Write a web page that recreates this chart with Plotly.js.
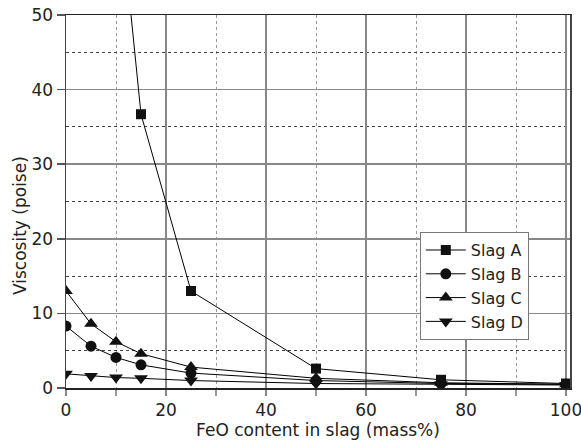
<!DOCTYPE html>
<html><head><meta charset="utf-8">
<script src="https://cdn.plot.ly/plotly-3.0.1.min.js"></script>
<style>body{margin:0;background:#fff}#c{width:581px;height:444px}</style>
</head><body><div id="c"></div>
<script>
const feoA = [10, 15, 25, 50, 75, 100];
const slagA = [70, 36.7, 13.0, 2.6, 1.1, 0.6];
const feo = [0, 5, 10, 15, 25, 50, 75, 100];
const slagB = [8.3, 5.6, 4.1, 3.1, 2.0, 1.0, 0.6, 0.5];
const slagC = [13.0, 8.6, 6.2, 4.6, 2.8, 1.3, 0.7, 0.5];
const slagD = [1.9, 1.6, 1.4, 1.3, 1.0, 0.6, 0.5, 0.4];
const names = ['Slag A', 'Slag B', 'Slag C', 'Slag D'];
const symbols = ['square', 'circle', 'triangle-up', 'triangle-down'];
const sizes = [10, 11, 12, 12];
const xs = [feoA, feo, feo, feo];
const ys = [slagA, slagB, slagC, slagD];

const traces = ys.map((y, i) => ({
  x: xs[i], y: y, name: names[i], type: 'scatter', mode: 'lines+markers',
  line: {color: '#000', width: 1},
  marker: {symbol: symbols[i], size: sizes[i], color: '#111'}
}));

const font = {family: 'DejaVu Sans, Verdana, sans-serif', size: 17, color: '#222'};
const layout = {
  width: 581, height: 444,
  margin: {l: 66, r: 11, t: 15, b: 56},
  paper_bgcolor: '#fff', plot_bgcolor: '#fff',
  font: font,
  showlegend: true,
  legend: {x: 0.702, y: 0.418, xanchor: 'left', yanchor: 'top',
    bgcolor: '#fff', bordercolor: '#777', borderwidth: 1,
    font: {family: font.family, size: 16, color: '#222'}, tracegroupgap: 0, itemwidth: 40},
  xaxis: {
    range: [0, 100.8], tickvals: [0, 20, 40, 60, 80, 100],
    showgrid: true, gridcolor: '#888', gridwidth: 1.5,
    showline: true, linecolor: '#222', linewidth: 1.5, mirror: true,
    ticks: 'outside', ticklen: 6, tickcolor: '#888', tickwidth: 1.5,
    zeroline: false, ticklabeloverflow: 'allow',
    minor: {tickvals: [10, 30, 50, 70, 90], showgrid: true, gridcolor: '#999', griddash: 'dot', gridwidth: 1,
      ticks: 'outside', ticklen: 6, tickcolor: '#999'},
    title: {text: 'FeO content in slag (mass%)', font: font, standoff: 4}
  },
  yaxis: {
    range: [0, 50], tickvals: [0, 10, 20, 30, 40, 50],
    showgrid: true, gridcolor: '#888', gridwidth: 1.5,
    showline: true, linecolor: '#444', linewidth: 1.5, mirror: true,
    ticks: 'outside', ticklen: 8, tickcolor: '#555', tickwidth: 1.5,
    zeroline: false,
    minor: {tickvals: [5, 15, 25, 35, 45], showgrid: true, gridcolor: '#444', griddash: 'dot', gridwidth: 1}
  },
  annotations: [{
    text: 'Viscosity (poise)', textangle: -90, showarrow: false,
    xref: 'paper', yref: 'paper', x: -0.0913, y: 0.437,
    xanchor: 'center', yanchor: 'middle', font: font
  }]
};
Plotly.newPlot('c', traces, layout, {displayModeBar: false, staticPlot: true});
</script>
</body></html>
